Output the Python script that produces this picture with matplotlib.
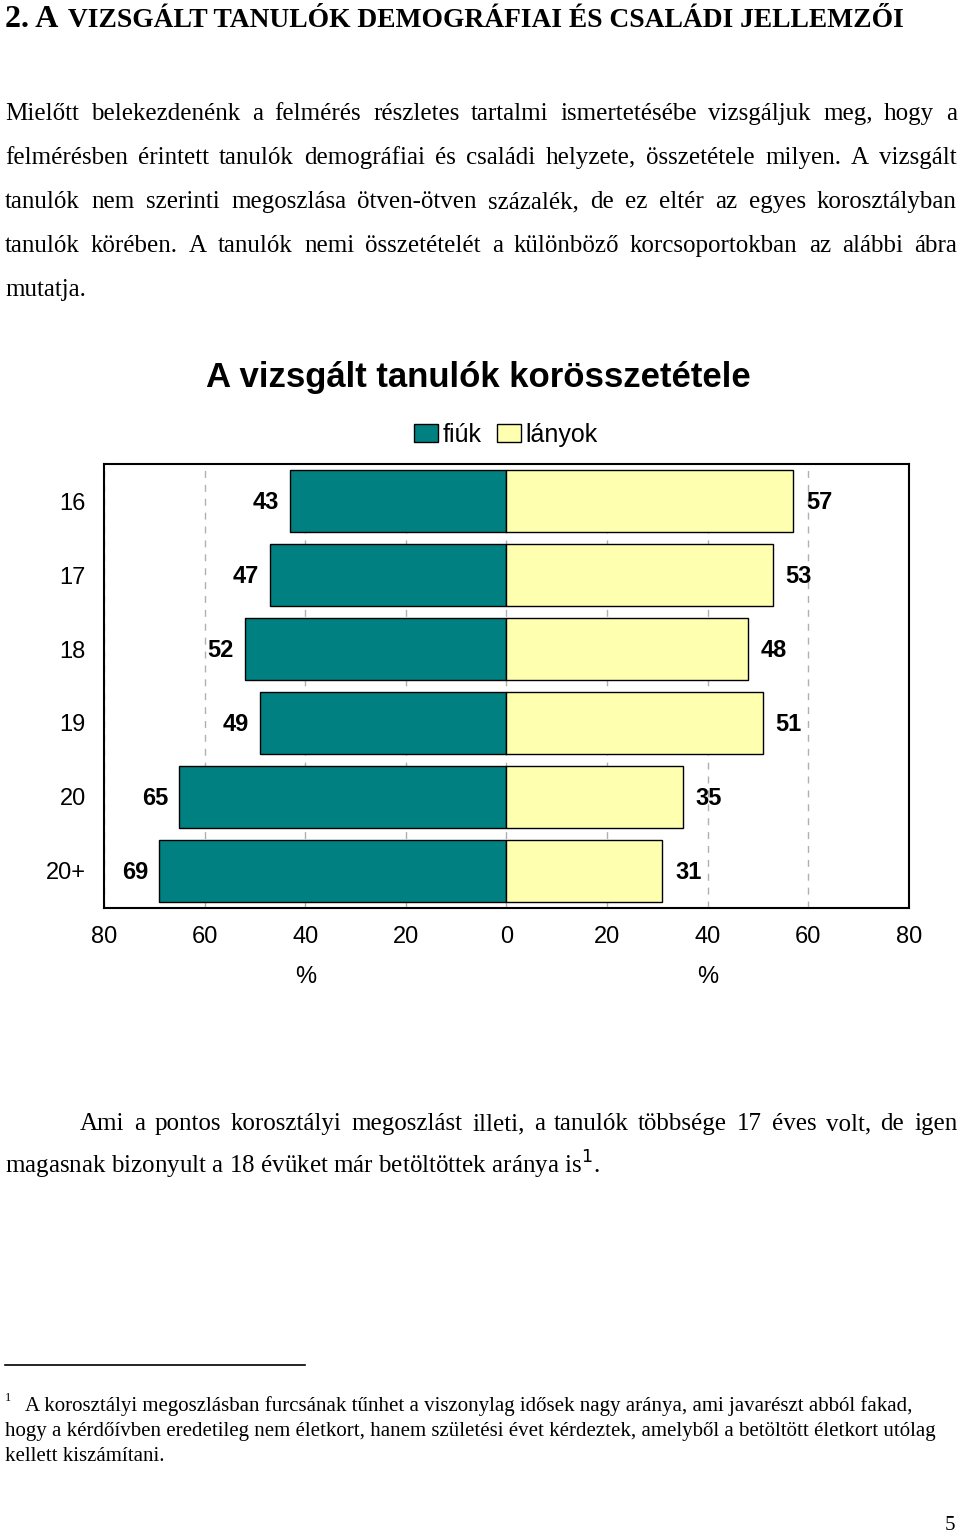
import matplotlib
matplotlib.use("Agg")
import matplotlib.pyplot as plt
from matplotlib.patches import Patch
from matplotlib.transforms import blended_transform_factory

ages = ["16", "17", "18", "19", "20", "20+"]
fiuk = [43, 47, 52, 49, 65, 69]
lanyok = [57, 53, 48, 51, 35, 31]
xticks = [-80, -60, -40, -20, 0, 20, 40, 60, 80]

title = "A vizsgált tanulók korösszetétele"
heading_big = "2. A"
heading_rest = "VIZSGÁLT TANULÓK DEMOGRÁFIAI ÉS CSALÁDI JELLEMZŐI"
para1 = [
    "Mielőtt belekezdenénk a felmérés részletes tartalmi ismertetésébe vizsgáljuk meg, hogy a",
    "felmérésben érintett tanulók demográfiai és családi helyzete, összetétele milyen. A vizsgált",
    "tanulók nem szerinti megoszlása ötven-ötven százalék, de ez eltér az egyes korosztályban",
    "tanulók körében. A tanulók nemi összetételét a különböző korcsoportokban az alábbi ábra",
    "mutatja.",
]
para2 = [
    "Ami a pontos korosztályi megoszlást illeti, a tanulók többsége 17 éves volt, de igen",
    "magasnak bizonyult a 18 évüket már betöltöttek aránya is$^{1}$.",
]
footnote = [
    "A korosztályi megoszlásban furcsának tűnhet a viszonylag idősek nagy aránya, ami javarészt abból fakad,",
    "hogy a kérdőívben eredetileg nem életkort, hanem születési évet kérdeztek, amelyből a betöltött életkort utólag",
    "kellett kiszámítani.",
]

W, H = 960, 1537
TEAL = "#008080"
CREAM = "#FFFFB0"
SERIF = "Liberation Serif"
SANS = "Liberation Sans"

fig = plt.figure(figsize=(W / 100, H / 100), dpi=100)
renderer = fig.canvas.get_renderer()


def fy(py):
    return 1 - py / H


def justify(line, x0, x1, py, size):
    # py is the baseline, in pixels from the top
    words = line.split(" ")
    texts = [fig.text(0, fy(py), w, fontsize=size, family=SERIF,
                      va="baseline", ha="left") for w in words]
    widths = [t.get_window_extent(renderer).width for t in texts]
    gap = (x1 - x0 - sum(widths)) / (len(words) - 1)
    x = x0
    for t, w in zip(texts, widths):
        t.set_x(round(x) / W)
        x += w + gap


# heading
fig.text(5 / W, fy(27), heading_big, fontsize=23, family=SERIF,
         weight="bold", va="baseline")
fig.text(68 / W, fy(27), heading_rest, fontsize=19.8, family=SERIF,
         weight="bold", va="baseline")

# first paragraph
body = 18
for i, line in enumerate(para1):
    py = 120 + i * 44
    if i < len(para1) - 1:
        justify(line, 5, 957, py, body)
    else:
        fig.text(5 / W, fy(py), line, fontsize=body, family=SERIF, va="baseline")

# chart
ax = fig.add_axes([104 / W, 1 - 908 / H, 805 / W, 444 / H])
y = list(range(len(ages)))
ax.barh(y, [-v for v in fiuk], height=0.84, color=TEAL,
        edgecolor="black", linewidth=1, zorder=3)
ax.barh(y, lanyok, height=0.84, color=CREAM,
        edgecolor="black", linewidth=1, zorder=3)
for i in y:
    ax.text(-fiuk[i] - 2.2, i + 0.02, str(fiuk[i]), ha="right", va="center",
            fontsize=17, weight="bold", family=SANS)
    ax.text(lanyok[i] + 2.5, i + 0.02, str(lanyok[i]), ha="left", va="center",
            fontsize=17, weight="bold", family=SANS)

ax.set_xlim(-80, 80)
ax.set_ylim(len(ages) - 0.5, -0.5)
ax.set_yticks(y)
ax.set_yticklabels(ages, family=SANS, fontsize=17)
ax.set_xticks(xticks)
ax.set_xticklabels([str(abs(v)) for v in xticks], family=SANS, fontsize=17)
ax.tick_params(length=0, pad=13)
ax.grid(axis="x", color="#b0b0b0", linestyle=(0, (5, 5)), linewidth=1, zorder=0)
ax.set_axisbelow(True)
for s in ax.spines.values():
    s.set_linewidth(1.5)

tr = blended_transform_factory(ax.transData, fig.transFigure)
ax.text(-40, fy(977), "%", transform=tr, ha="center", va="center",
        fontsize=17, family=SANS)
ax.text(40, fy(977), "%", transform=tr, ha="center", va="center",
        fontsize=17, family=SANS)

fig.text(478 / W, fy(378), title, ha="center", va="center",
         fontsize=25, weight="bold", family=SANS)

handles = [Patch(facecolor=TEAL, edgecolor="black"),
           Patch(facecolor=CREAM, edgecolor="black")]
fig.legend(handles, ["fiúk", "lányok"], loc="center",
           bbox_to_anchor=(506 / W, fy(435)), ncol=2, frameon=False,
           prop={"family": SANS, "size": 18}, handlelength=0.95,
           handleheight=0.75, handletextpad=0.2, columnspacing=0.6)

# second paragraph
justify(para2[0], 80, 957, 1130, body)
fig.text(5 / W, fy(1174), para2[1], fontsize=body, family=SERIF, va="baseline")

# footnote
fig.add_artist(plt.Line2D([5 / W, 305 / W], [fy(1365), fy(1365)],
                          color="black", linewidth=1.2))
fig.text(5 / W, fy(1398), "1", fontsize=9, family=SERIF, va="center")
fs = 15
fig.text(25 / W, fy(1411), footnote[0], fontsize=fs, family=SERIF, va="baseline")
fig.text(5 / W, fy(1436), footnote[1], fontsize=fs, family=SERIF, va="baseline")
fig.text(5 / W, fy(1461), footnote[2], fontsize=fs, family=SERIF, va="baseline")

fig.text(950 / W, fy(1526), "5", fontsize=15, family=SERIF,
         ha="center", va="center")

fig.savefig("out.png", dpi=100)
